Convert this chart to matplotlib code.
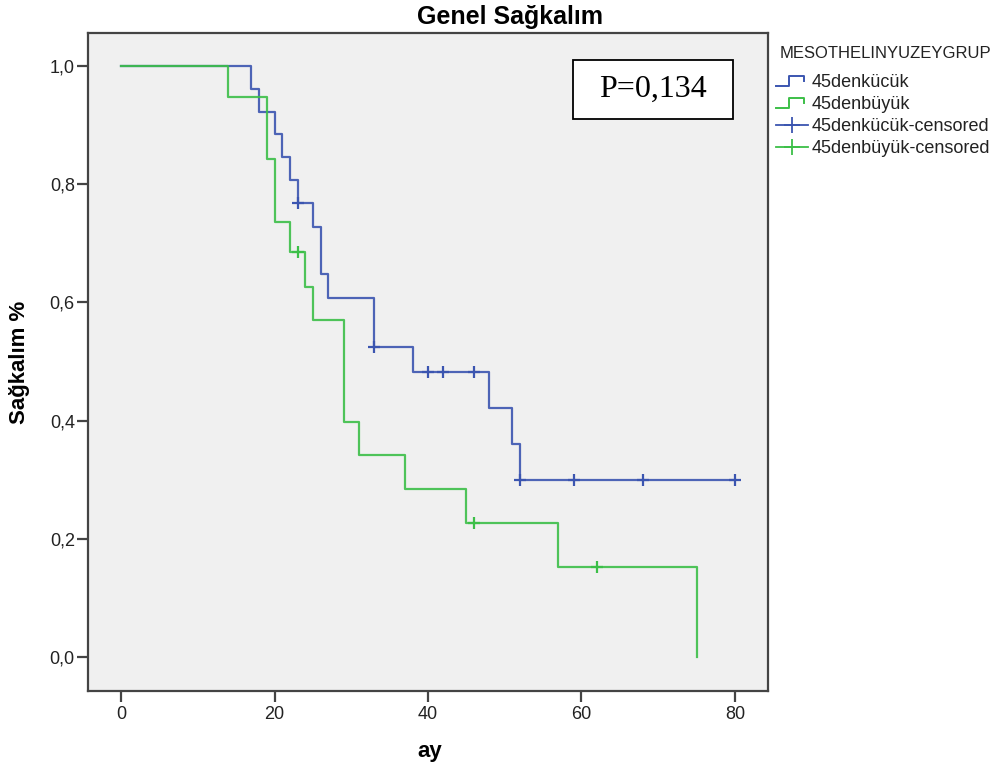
import matplotlib
matplotlib.use("Agg")
import matplotlib.pyplot as plt
import numpy as np
from matplotlib.lines import Line2D
from matplotlib.legend_handler import HandlerBase
from matplotlib.patches import Rectangle

plt.rcParams['font.family'] = ['Liberation Sans', 'DejaVu Sans']

# ---- data ----
title = "Genel Sağkalım"
xlabel = "ay"
ylabel = "Sağkalım %"
legend_title = "MESOTHELINYUZEYGRUP"
group_names = ["45denkücük", "45denbüyük"]
p_text = "P=0,134"

blue_times = [0, 17, 18, 20, 21, 22, 23, 25, 26, 27, 33, 38, 48, 51, 52]
blue_surv = [1.0, 0.962, 0.923, 0.885, 0.846, 0.808, 0.769, 0.728, 0.648, 0.607,
             0.525, 0.482, 0.422, 0.361, 0.300]
blue_end = 80
blue_censored = [23, 33, 40, 42, 46, 52, 59, 68, 80]

green_times = [0, 14, 19, 20, 22, 24, 25, 29, 31, 37, 45, 57, 75]
green_surv = [1.0, 0.948, 0.843, 0.736, 0.685, 0.627, 0.570, 0.398, 0.342,
              0.284, 0.227, 0.152, 0.0]
green_end = 75
green_censored = [23, 46, 62]

xticks = [0, 20, 40, 60, 80]
yticks = [0.0, 0.2, 0.4, 0.6, 0.8, 1.0]
ytick_labels = ["0,0", "0,2", "0,4", "0,6", "0,8", "1,0"]

BLUE = "#3b55b0"
GREEN = "#3cbf48"
FRAME = "#444444"

fig = plt.figure(figsize=(10.03, 7.69), dpi=100)
ax = fig.add_axes([88/1003, 1-691/769, (768-88)/1003, (691-33)/769])
ax.set_facecolor("#f0f0f0")


def step_xy(times, surv, end):
    t = list(times) + [end]
    s = list(surv) + [surv[-1]]
    return t, s


def surv_at(times, surv, x):
    idx = np.searchsorted(np.array(times), np.array(x), side="right") - 1
    return np.array(surv)[idx]


for times, surv, end, cens, col in [
        (blue_times, blue_surv, blue_end, blue_censored, BLUE),
        (green_times, green_surv, green_end, green_censored, GREEN)]:
    t, s = step_xy(times, surv, end)
    ax.step(t, s, where="post", color=col, lw=1.6, alpha=0.9, zorder=3)
    ax.plot(cens, surv_at(times, surv, cens), ls="none", marker="+",
            ms=9, mew=1.6, color=col, zorder=4)

ax.set_xlim(-4.3, 84.3)
ax.set_ylim(-0.0575, 1.056)
ax.set_xticks(xticks)
ax.set_yticks(yticks)
ax.set_yticklabels(ytick_labels)
for sp in ax.spines.values():
    sp.set_color(FRAME)
    sp.set_linewidth(1.6)
ax.tick_params(axis="both", direction="out", length=8, width=1.6, color=FRAME,
               labelsize=13, labelcolor="#222222")
ax.tick_params(axis="y", pad=1.5)
ax.tick_params(axis="x", pad=3)

fig.text(0.508, 1-17/769, title, ha="center", va="center", fontsize=18,
         fontweight="bold")
fig.text(430/1003, 1-752/769, xlabel, ha="center", va="center", fontsize=16,
         fontweight="bold")
fig.text(20/1003, 1-362/769, ylabel, ha="center", va="center", fontsize=16,
         fontweight="bold", rotation=90)

# P-value box
x0 = (573-88)/680
y0 = (691-119)/658
w = (733-573)/680
h = (119-60)/658
ax.add_patch(Rectangle((x0, y0), w, h, transform=ax.transAxes, facecolor="white",
                       edgecolor="black", lw=1.3, zorder=5))
ax.text(x0 + w/2, y0 + h/2, p_text, transform=ax.transAxes, ha="center",
        va="center", fontsize=23, family="Liberation Serif", zorder=6)


class StepHandler(HandlerBase):
    def __init__(self, color):
        super().__init__()
        self.color = color

    def create_artists(self, legend, orig_handle, xdescent, ydescent, width,
                       height, fontsize, trans):
        xs = [0, 0.4*width, 0.4*width, 0.9*width, 0.9*width]
        ys = [0.1*height, 0.1*height, 0.85*height, 0.85*height, 0.45*height]
        ln = Line2D([x - xdescent for x in xs], [y - ydescent for y in ys],
                    color=self.color, lw=1.4, transform=trans)
        return [ln]


h1 = Line2D([], [], color=BLUE)
h2 = Line2D([], [], color=GREEN)
h3 = Line2D([0, 0.5, 1], [0, 0, 0], color=BLUE, marker="+", ms=12, mew=1.3,
            lw=1.3, markevery=[1])
h4 = Line2D([0, 0.5, 1], [0, 0, 0], color=GREEN, marker="+", ms=12, mew=1.3,
            lw=1.3, markevery=[1])

fig.text(780/1003, 1-53/769, legend_title, ha="left", va="center", fontsize=12,
         color="#222222")
leg = fig.legend([h1, h2, h3, h4],
                 [group_names[0], group_names[1],
                  group_names[0] + "-censored", group_names[1] + "-censored"],
                 handler_map={h1: StepHandler(BLUE), h2: StepHandler(GREEN)},
                 loc="upper left", bbox_to_anchor=(776/1003, 1-74/769),
                 frameon=False, fontsize=13, handlelength=1.75,
                 handletextpad=0.25, labelspacing=0.28, borderpad=0,
                 borderaxespad=0)
for txt in leg.get_texts():
    txt.set_color("#222222")

fig.savefig("out.png", dpi=100)
